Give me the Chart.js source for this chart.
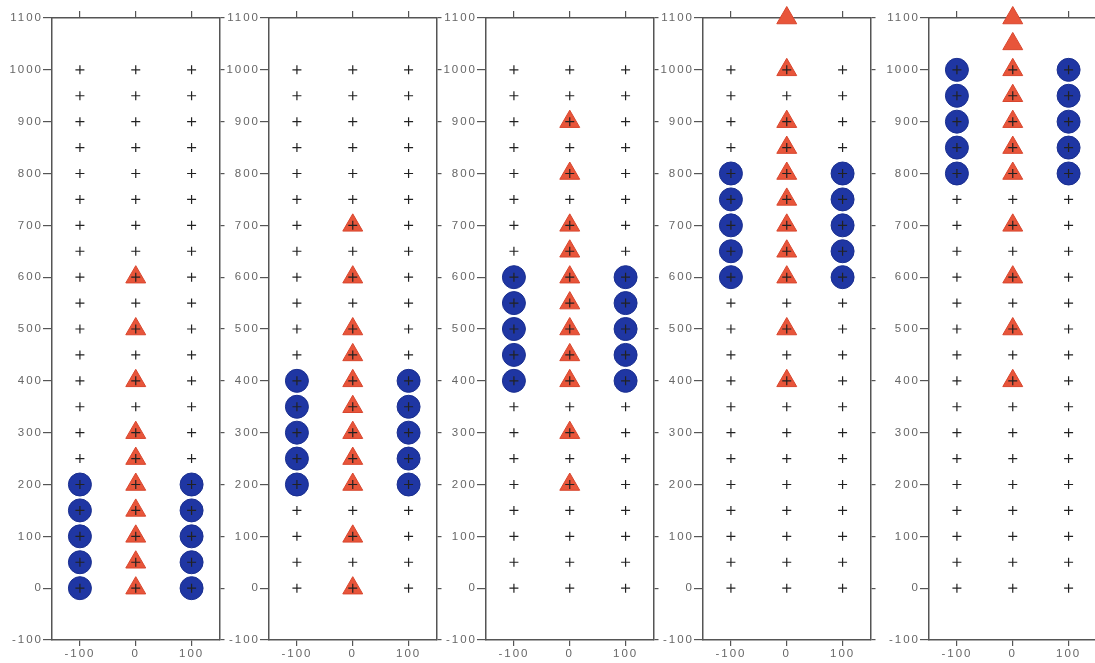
<!DOCTYPE html>
<html>
<head>
<meta charset="UTF-8">
<title>Panels</title>
<script src="https://cdn.jsdelivr.net/npm/chart.js"></script>
<style>
  body { margin: 0; background: #fff; }
  #wrap { position: relative; width: 1095px; height: 663px; overflow: hidden; }
  .panel { position: absolute; top: 0; }
</style>
</head>
<body>
<div id="wrap"></div>
<script>
// columns and tick values
const xCols = [-100, 0, 100];
const xTicks = [-100, 0, 100];
const yTicks = [-100, 0, 100, 200, 300, 400, 500, 600, 700, 800, 900, 1000, 1100];
// the grid of "+" marks (same in every panel)
const gridY = [0, 50, 100, 150, 200, 250, 300, 350, 400, 450, 500, 550, 600, 650, 700, 750, 800, 850, 900, 950, 1000];
// blue circles at x = -100 and x = 100
const blueY = [
  [0, 50, 100, 150, 200],
  [200, 250, 300, 350, 400],
  [400, 450, 500, 550, 600],
  [600, 650, 700, 750, 800],
  [800, 850, 900, 950, 1000]
];
// red triangles at x = 0
const redY = [
  [0, 50, 100, 150, 200, 250, 300, 400, 500, 600],
  [0, 100, 200, 250, 300, 350, 400, 450, 500, 600, 700],
  [200, 300, 400, 450, 500, 550, 600, 650, 700, 800, 900],
  [400, 500, 600, 650, 700, 750, 800, 850, 900, 1000, 1100],
  [400, 500, 600, 700, 800, 850, 900, 950, 1000, 1050, 1100]
];

// left edge of each panel's y axis (px)
const axisX = [52, 269, 486, 703, 929];
const leftW = 52, plotW = 170, rightW = 10, topH = 18, bottomH = 23;

const lineCol = '#555';
const textCol = '#666';

const spacing = {
  id: 'spacing',
  beforeDraw(chart) { chart.ctx.letterSpacing = '2px'; }
};

function fixTicks(values) {
  return scale => { scale.ticks = values.map(v => ({ value: v })); };
}

axisX.forEach((ax, i) => {
  const cv = document.createElement('canvas');
  cv.className = 'panel';
  cv.width = leftW + plotW + rightW;
  cv.height = 663;
  cv.style.left = (ax - leftW) + 'px';
  document.getElementById('wrap').appendChild(cv);

  const plus = [];
  xCols.forEach(x => gridY.forEach(y => plus.push({ x: x, y: y })));
  const blue = [];
  [xCols[0], xCols[2]].forEach(x => blueY[i].forEach(y => blue.push({ x: x, y: y })));
  const red = redY[i].map(y => ({ x: xCols[1], y: y }));

  const border = { display: true, color: lineCol, width: 1.5 };
  const labelFont = { family: 'Liberation Sans', size: 11.5 };

  new Chart(cv, {
    type: 'scatter',
    data: {
      datasets: [
        { data: plus, pointStyle: 'cross', pointRadius: 4.5, borderColor: '#222', borderWidth: 1.2, order: 0, clip: false },
        { data: blue, pointStyle: 'circle', pointRadius: 11.5, backgroundColor: '#1f36a3', borderColor: '#1a2f8f', borderWidth: 1, order: 1, clip: false },
        { data: red, pointStyle: 'triangle', pointRadius: 11.5, backgroundColor: '#e8553a', borderColor: '#d8462e', borderWidth: 1, order: 1, clip: false }
      ]
    },
    options: {
      responsive: false,
      animation: false,
      events: [],
      layout: { padding: 0 },
      plugins: { legend: { display: false }, tooltip: { enabled: false } },
      scales: {
        x: {
          type: 'linear', position: 'bottom', min: -150, max: 150,
          afterBuildTicks: fixTicks(xTicks),
          afterFit: s => { s.height = bottomH; },
          border: border,
          grid: { drawOnChartArea: false, color: lineCol, lineWidth: 1.2, tickLength: 6 },
          ticks: { color: textCol, padding: 1, maxRotation: 0, autoSkip: false, font: labelFont, callback: v => String(v) }
        },
        x2: {
          type: 'linear', position: 'top', min: -150, max: 150,
          afterBuildTicks: fixTicks(xTicks),
          afterFit: s => { s.height = topH; },
          border: border,
          grid: { drawOnChartArea: false, color: lineCol, lineWidth: 1.2, tickLength: 7 },
          ticks: { display: false }
        },
        y: {
          type: 'linear', position: 'left', min: -100, max: 1100,
          afterBuildTicks: fixTicks(yTicks),
          afterFit: s => { s.width = leftW; },
          border: border,
          grid: { drawOnChartArea: false, color: lineCol, lineWidth: 1.2, tickLength: 9 },
          ticks: { color: textCol, padding: 0, autoSkip: false, font: labelFont, callback: v => String(v) }
        },
        y2: {
          type: 'linear', position: 'right', min: -100, max: 1100,
          afterBuildTicks: fixTicks(yTicks),
          afterFit: s => { s.width = rightW; },
          border: border,
          grid: { drawOnChartArea: false, color: lineCol, lineWidth: 1.2, tickLength: 5 },
          ticks: { display: false }
        }
      }
    },
    plugins: [spacing]
  });
});
</script>
</body>
</html>
